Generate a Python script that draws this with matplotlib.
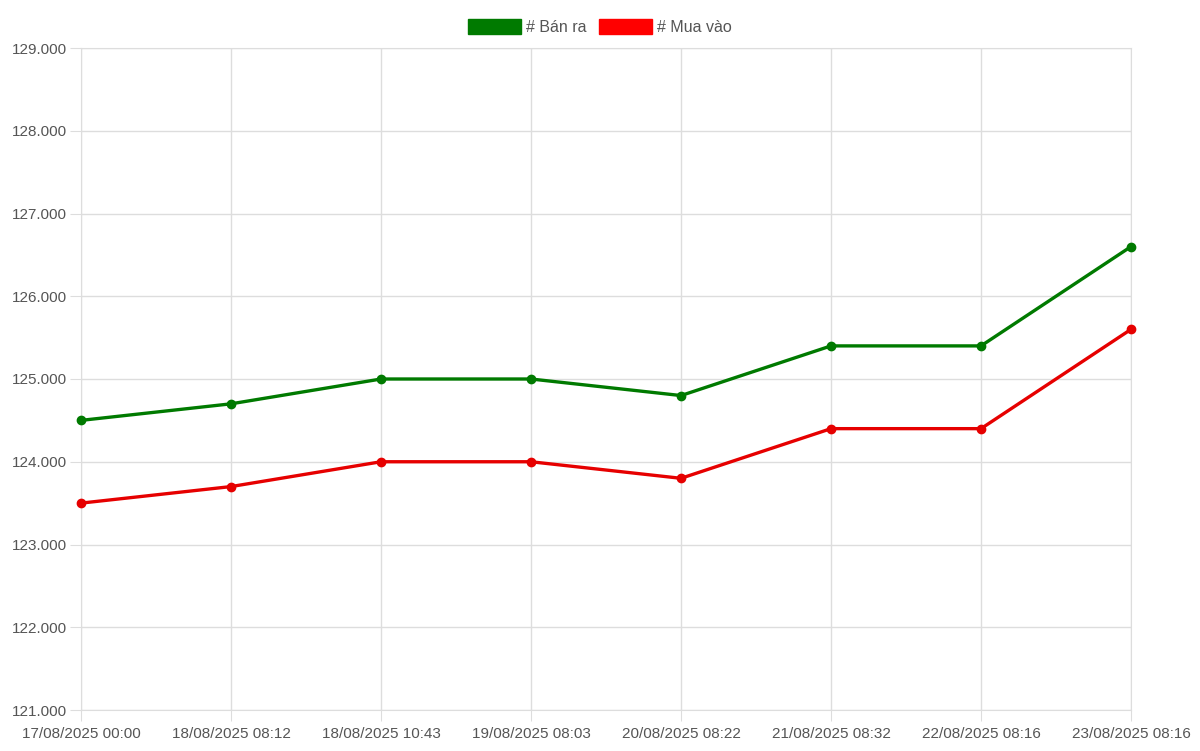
import matplotlib
matplotlib.use('agg')
from matplotlib import pyplot as plt
from matplotlib.patches import Patch

labels = ["17/08/2025 00:00", "18/08/2025 08:12", "18/08/2025 10:43", "19/08/2025 08:03",
          "20/08/2025 08:22", "21/08/2025 08:32", "22/08/2025 08:16", "23/08/2025 08:16"]
ban_ra = [124.5, 124.7, 125.0, 125.0, 124.8, 125.4, 125.4, 126.6]
mua_vao = [123.5, 123.7, 124.0, 124.0, 123.8, 124.4, 124.4, 125.6]
yticks = [121, 122, 123, 124, 125, 126, 127, 128, 129]

plt.rcParams['font.family'] = ['Liberation Sans', 'DejaVu Sans']

fig = plt.figure(figsize=(12, 7.51), dpi=100)
ax = fig.add_axes([81 / 1200, 1 - 710 / 751, 1050 / 1200, 662 / 751])

x = list(range(len(labels)))
ax.plot(x, ban_ra, color='#007a00', lw=2.4, marker='o', ms=6, zorder=3, clip_on=False)
ax.plot(x, mua_vao, color='#e60000', lw=2.4, marker='o', ms=6, zorder=3, clip_on=False)

ax.set_xlim(0, len(labels) - 1)
ax.set_ylim(121, 129)
ax.set_xticks(x)
ax.set_xticklabels(labels)
ax.set_yticks(yticks)
ax.set_yticklabels(["{:.3f}".format(v) for v in yticks])
ax.grid(True, color='#dddddd', lw=1)
ax.tick_params(length=8, color='#dddddd', labelsize=11, labelcolor='#555555', pad=2)
ax.tick_params(axis='x', pad=4)
for s in ax.spines.values():
    s.set_color('#dddddd')

handles = [Patch(facecolor='#007a00', edgecolor='#007a00', label='# Bán ra'),
           Patch(facecolor='#ff0000', edgecolor='#ff0000', label='# Mua vào')]
fig.legend(handles=handles, loc='center', bbox_to_anchor=(0.5, 1 - 27 / 751), ncol=2,
           frameon=False, fontsize=11.5, handlelength=3.3, handleheight=1.1,
           handletextpad=0.3, columnspacing=0.8, labelcolor='#555555')

fig.savefig("out.png", dpi=100)
